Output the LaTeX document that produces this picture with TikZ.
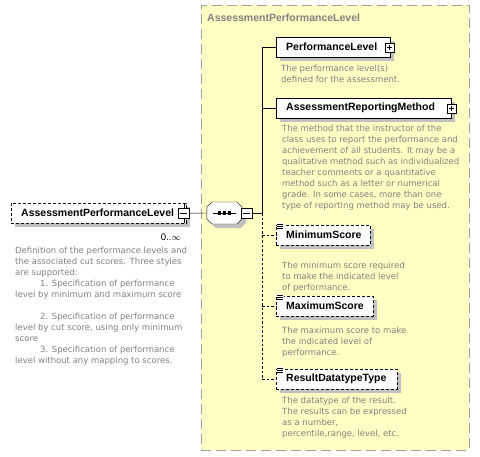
\documentclass[tikz,border=0pt]{standalone}
\usepackage{fontspec}
\setmainfont{Liberation Sans}
\newfontfamily\descfont{DejaVu Sans}
\usetikzlibrary{shadows,calc}
\definecolor{panelfill}{RGB}{255,255,196}
\definecolor{panelline}{RGB}{160,160,160}
\definecolor{descgray}{RGB}{128,128,128}
\definecolor{shadowgray}{RGB}{192,192,192}
\begin{document}
\begin{tikzpicture}[x=1pt,y=-1pt,
  boxshadow/.style={general shadow={shadow xshift=4pt,shadow yshift=-4pt,fill=shadowgray}},
  elembox/.style={draw=black,fill=white,anchor=north west,inner xsep=10pt,inner ysep=0pt,
     minimum height=20pt,align=left,font=\fontsize{10.5}{12}\selectfont\bfseries,boxshadow},
  optbox/.style={elembox,dash pattern=on 3pt off 2pt},
  desc/.style={anchor=north west,inner sep=0pt,align=left,text=descgray,
     font=\descfont\fontsize{8.5}{11}\selectfont},
  iconbox/.style={draw=black,fill=white,inner sep=0pt,minimum width=9pt,minimum height=9pt,solid},
  plusicon/.style={iconbox,path picture={
     \draw ([xshift=1.8pt]path picture bounding box.west) -- ([xshift=-1.8pt]path picture bounding box.east);
     \draw ([yshift=-1.8pt]path picture bounding box.north) -- ([yshift=1.8pt]path picture bounding box.south);}},
  minusicon/.style={iconbox,minimum width=11pt,minimum height=10pt,path picture={
     \draw ([xshift=2pt]path picture bounding box.west) -- ([xshift=-2pt]path picture bounding box.east);}},
  opticon/.style={fill=white,inner sep=0.5pt,minimum width=7pt,minimum height=6pt,path picture={
     \foreach \k in {0.2,0.5,0.8}{\draw[line width=0.7pt] ($(path picture bounding box.north west)!\k!(path picture bounding box.south west)$) -- ++(6pt,0);}}},
  optline/.style={dash pattern=on 2.5pt off 2pt}
]
\useasboundingbox (0,0) rectangle (480,456);
% panel
\node[draw=panelline,fill=panelfill,line width=0.9pt,dash pattern=on 10pt off 5pt,
      anchor=north west,minimum width=268pt,minimum height=445pt,inner sep=0pt] (panel) at (201,5) {};
\node[anchor=west,inner sep=0pt,text=descgray,font=\fontsize{10.5}{12}\selectfont\bfseries] (ptitle) at (207,18) {AssessmentPerformanceLevel};

% left element
\node[optbox,text width=155pt] (root) at (11,203) {AssessmentPerformanceLevel};
\node[minusicon] (rooticon) at ([xshift=-2.5pt]root.east) {};
\draw (rooticon.north) -- (rooticon.north |- root.north);
\draw (rooticon.south) -- (rooticon.south |- root.south);
\node[anchor=east,inner sep=0pt,font=\fontsize{9.5}{11}\selectfont] (mult) at (181,237) {0..$\infty$};
\node[desc] (rootdesc) at (15,247) {Definition of the performance levels and\\the associated cut scores. Three styles\\are supported:\\\hspace*{25pt}1. Specification of performance\\level by minimum and maximum score\\\mbox{}\\\hspace*{25pt}2. Specification of performance\\level by cut score, using only minimum\\score\\\hspace*{25pt}3. Specification of performance\\level without any mapping to scores.};

% sequence compositor
\node[inner sep=0pt,minimum width=35pt,minimum height=22pt] (seq) at (224.5,213) {};
\fill[shadowgray] ([shift={(4,4)}]seq.west) ++(0,-6) -- ++(5,-5) -- ++(25,0) -- ++(5,5) -- ++(0,12) -- ++(-5,5) -- ++(-25,0) -- ++(-5,-5) -- cycle;
\draw[fill=white] (seq.west) ++(0,-6) -- ++(5,-5) -- ++(25,0) -- ++(5,5) -- ++(0,12) -- ++(-5,5) -- ++(-25,0) -- ++(-5,-5) -- cycle;
\draw ([xshift=6pt]seq.west) -- ([xshift=-6pt]seq.east);
\foreach \dx in {-5,0,5}{\fill ([xshift=\dx pt]seq.center) ++(-1.6pt,-1.6pt) rectangle ++(3.2pt,3.2pt);}
\node[minusicon] (seqicon) at ([xshift=4pt]seq.east) {};
\draw (rooticon.east) -- (seq.west);

% children
\node[elembox,text width=94pt] (pl) at (276,37) {PerformanceLevel};
\node[plusicon] (plicon) at ([xshift=-1pt]pl.east) {};
\node[desc] (pldesc) at (281,65) {The performance level(s)\\defined for the assessment.};

\node[elembox,text width=155pt] (arm) at (276,98) {AssessmentReportingMethod};
\node[plusicon] (armicon) at (arm.east) {};
\node[desc] (armdesc) at (282,125) {The method that the instructor of the\\class uses to report the performance and\\achievement of all students. It may be a\\qualitative method such as individualized\\teacher comments or a quantitative\\method such as a letter or numerical\\grade. In some cases, more than one\\type of reporting method may be used.};

\node[optbox,text width=74pt] (mins) at (276,225) {MinimumScore};
\node[opticon,anchor=north west] (minsicon) at ([xshift=1pt,yshift=2pt]mins.north west) {};
\node[desc] (minsdesc) at (282,262) {The minimum score required\\to make the indicated level\\of performance.};

\node[optbox,text width=77pt] (maxs) at (276,296) {MaximumScore};
\node[opticon,anchor=north west] (maxsicon) at ([xshift=1pt,yshift=2pt]maxs.north west) {};
\node[desc] (maxsdesc) at (282,327) {The maximum score to make\\the indicated level of\\performance.};

\node[optbox,text width=101pt] (rdt) at (276,369) {ResultDatatypeType};
\node[opticon,anchor=north west] (rdticon) at ([xshift=1pt,yshift=2pt]rdt.north west) {};
\node[desc] (rdtdesc) at (282,397) {The datatype of the result.\\The results can be expressed\\as a number,\\percentile,range, level, etc.};

% connectors
\coordinate (vj) at (262,213);
\draw (seqicon.east) -- (vj);
\draw (pl.west) -- (pl.west -| vj) -- (vj);
\draw (arm.west) -- (arm.west -| vj);
\draw[optline] (vj) -- (rdt.west -| vj) -- (rdt.west);
\draw[optline] (mins.west -| vj) -- (mins.west);
\draw[optline] (maxs.west -| vj) -- (maxs.west);
\end{tikzpicture}
\end{document}
